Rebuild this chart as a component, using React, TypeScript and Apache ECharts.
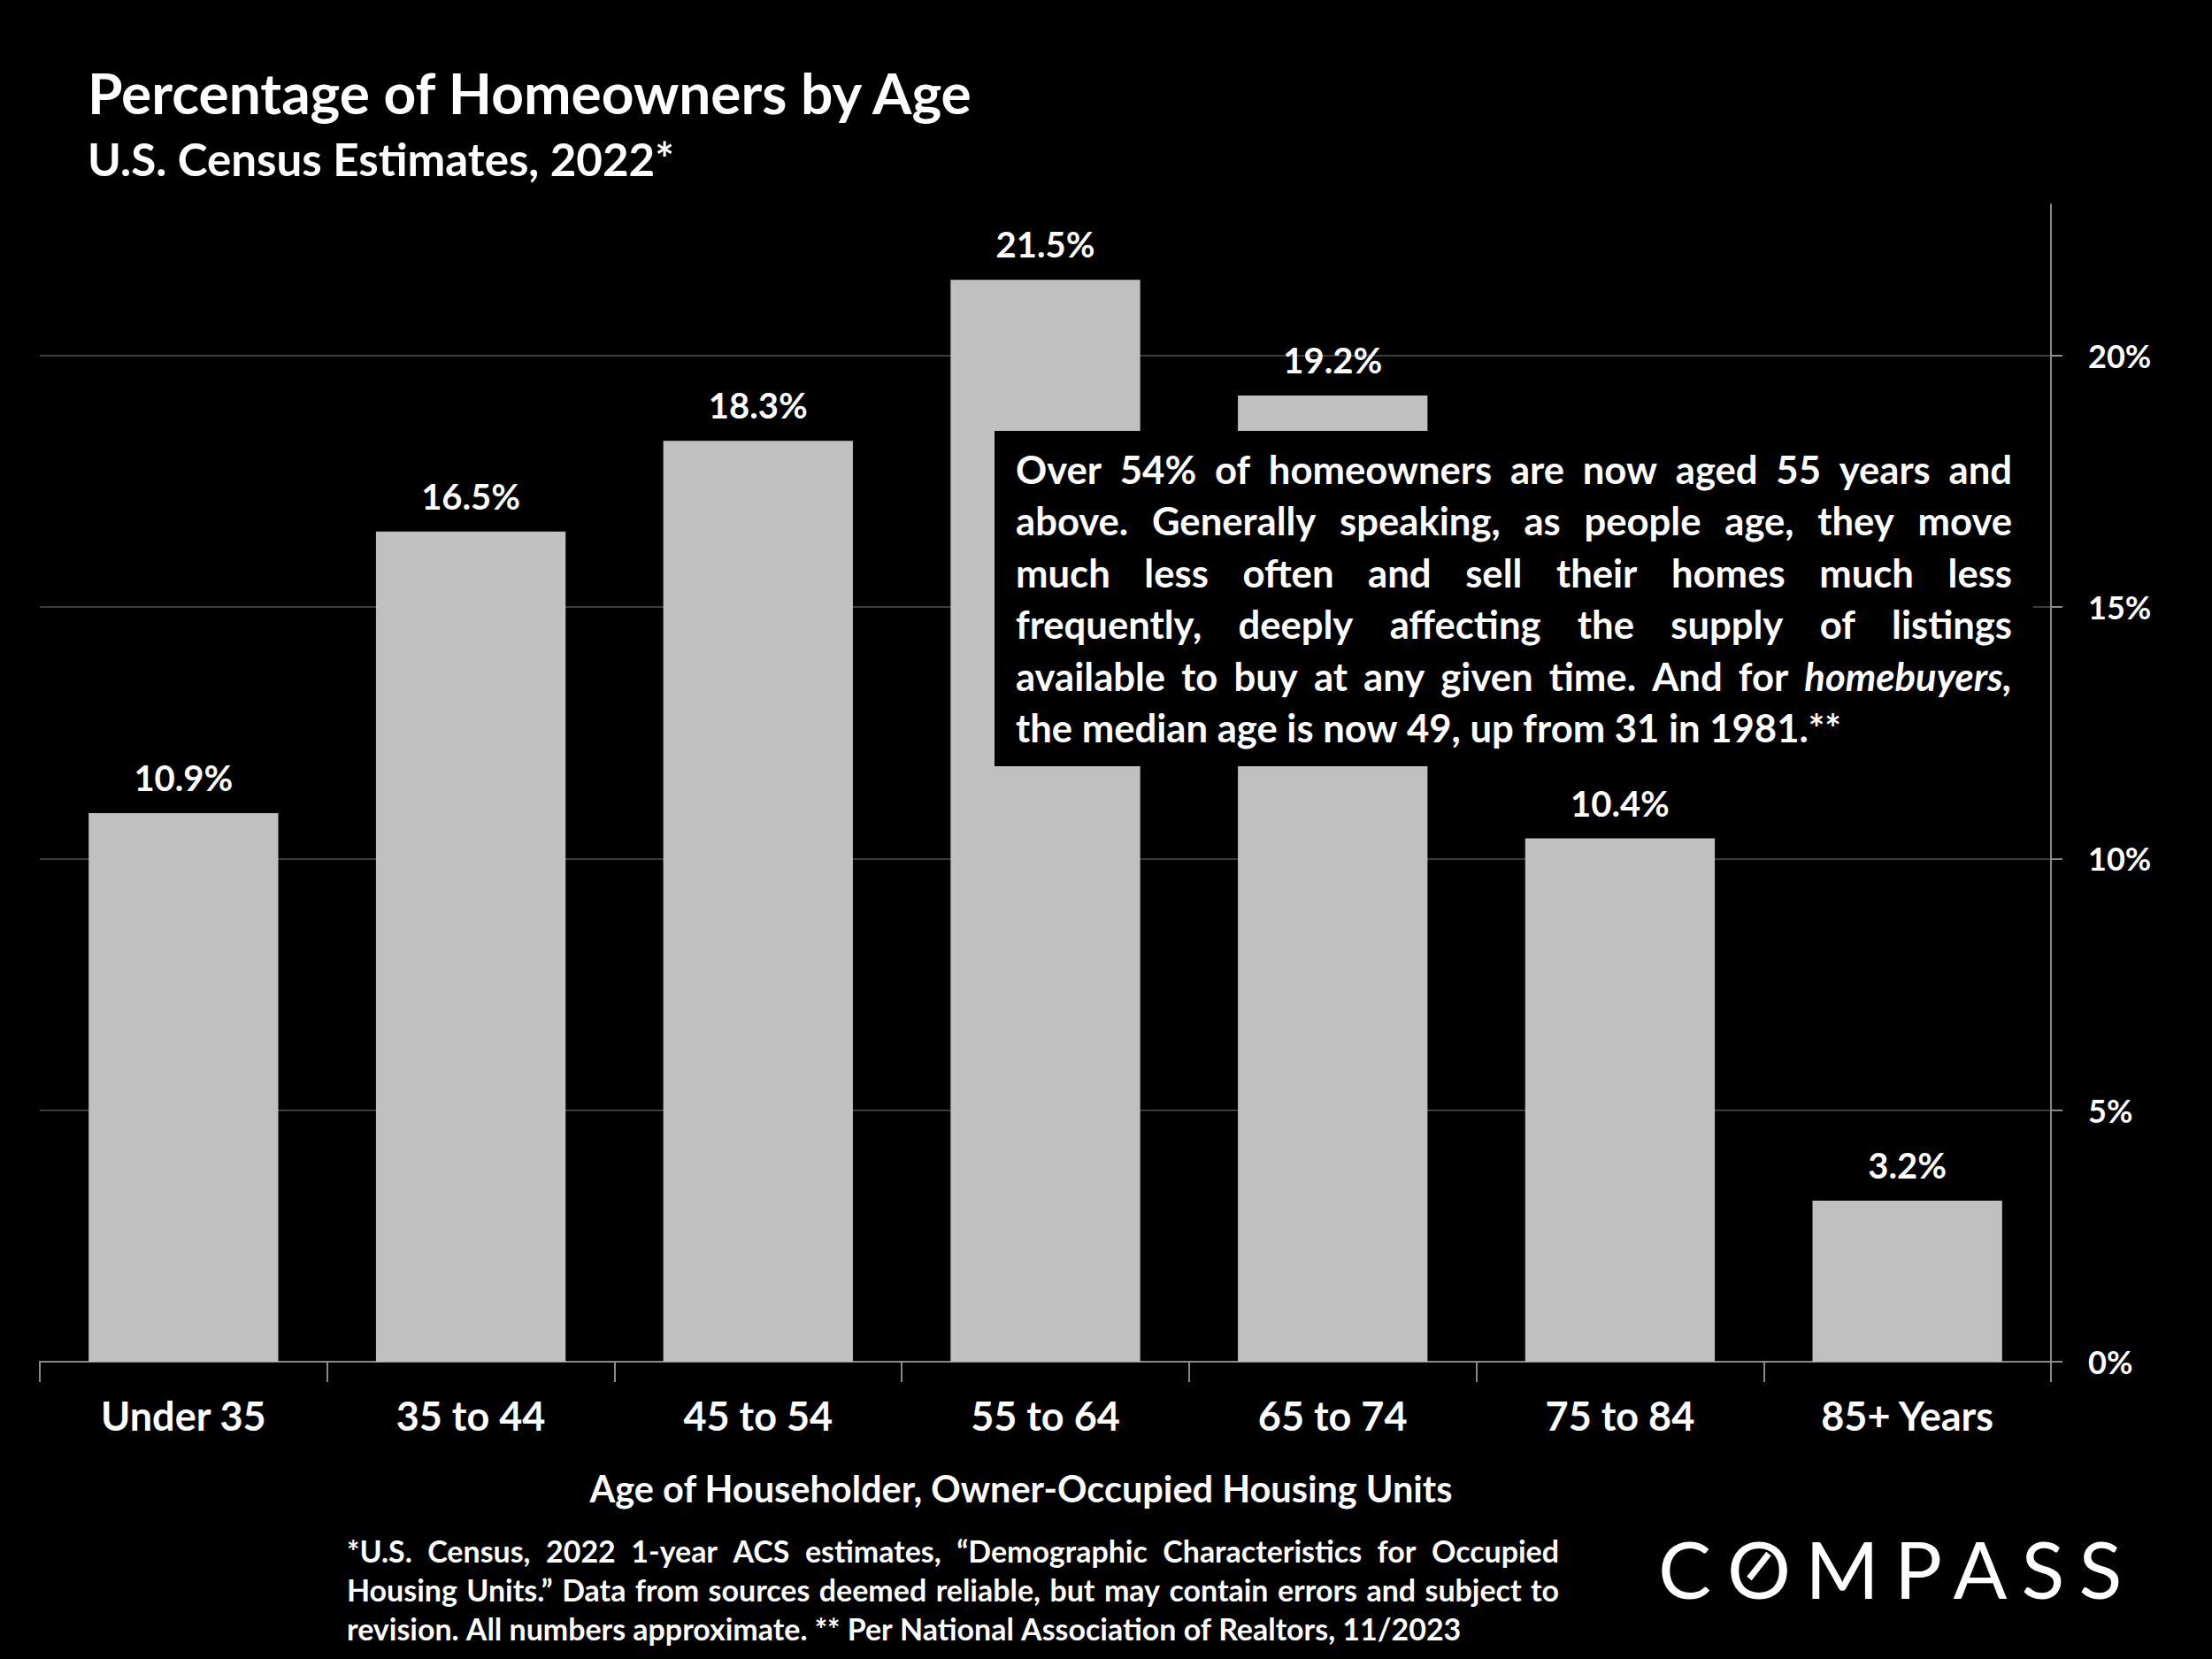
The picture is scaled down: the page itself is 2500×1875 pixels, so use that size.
import React, { useEffect, useRef } from "react";
import * as echarts from "echarts";

// ---------- data ----------
const categories = ["Under 35", "35 to 44", "45 to 54", "55 to 64", "65 to 74", "75 to 84", "85+ Years"];
const shares = [10.9, 16.5, 18.3, 21.5, 19.2, 10.4, 3.2];
const yTickValues = [0, 5, 10, 15, 20];
const titleText = "Percentage of Homeowners by Age";
const subtitleText = "U.S. Census Estimates, 2022*";
const xAxisTitle = "Age of Householder, Owner-Occupied Housing Units";
const noteLines: string[] = [
  "Over 54% of homeowners are now aged 55 years and",
  "above. Generally speaking, as people age, they move",
  "much less often and sell their homes much less",
  "frequently, deeply affecting the supply of listings",
  "available to buy at any given time. And for _homebuyers_,",
  "the median age is now 49, up from 31 in 1981.**",
];
const footLines: string[] = [
  "*U.S. Census, 2022 1-year ACS estimates, “Demographic Characteristics for Occupied",
  "Housing Units.” Data from sources deemed reliable, but may contain errors and subject to",
  "revision. All numbers approximate.  ** Per National Association of Realtors, 11/2023",
];
const logoLetters = ["C", "O", "M", "P", "A", "S", "S"];

// ---------- helpers ----------
const FAMILY = "Lato, 'Open Sans', sans-serif";
const mctx = document.createElement("canvas").getContext("2d")!;
function measure(text: string, size: number, weight = "bold", style = "normal") {
  mctx.font = `${style} ${weight} ${size}px ${FAMILY}`;
  return mctx.measureText(text).width;
}
function fitSize(text: string, target: number, weight = "bold") {
  return (100 * target) / measure(text, 100, weight);
}

function lineWords(line: string, x0: number, width: number, y: number, size: number, justify: boolean, z: number) {
  const raw = line.split(/\s+/).filter((w) => w.length);
  const words = raw.map((w) => {
    const italic = w.startsWith("_");
    const clean = w.replace(/_/g, "");
    return { t: clean, italic };
  });
  const widths = words.map((w) => measure(w.t, size, "bold", w.italic ? "italic" : "normal"));
  const total = widths.reduce((a, b) => a + b, 0);
  const space = measure(" ", size);
  const gap = justify && words.length > 1 ? (width - total) / (words.length - 1) : space;
  let x = x0;
  return words.map((w, i) => {
    const el = {
      type: "text",
      x,
      y,
      z,
      style: {
        text: w.t,
        fill: "#ffffff",
        fontSize: size,
        fontWeight: "bold",
        fontStyle: w.italic ? "italic" : "normal",
        fontFamily: FAMILY,
        align: "left",
        verticalAlign: "middle",
        textAlign: "left",
        textVerticalAlign: "middle",
      },
    };
    x += widths[i] + gap;
    return el;
  });
}

export default function App() {
  const ref = useRef<HTMLDivElement>(null);
  useEffect(() => {
    document.body.style.margin = "0";
    const chart = echarts.init(ref.current!, undefined, { renderer: "svg" });

    const noteSize = fitSize("the median age is now 49, up from 31 in 1981.**", 933);
    const footSize = fitSize("revision. All numbers approximate.  ** Per National Association of Realtors, 11/2023", 1268);
    const titleSize = fitSize(titleText, 1004);
    const subSize = fitSize(subtitleText, 663);
    const axisTitleSize = fitSize(xAxisTitle, 976);

    const noteY0 = 530;
    const noteStep = 58.4;
    const noteEls: any[] = [];
    noteLines.forEach((ln, i) => {
      noteEls.push(...lineWords(ln, 1148, 1126, noteY0 + i * noteStep, noteSize, i < noteLines.length - 1, 102));
    });
    const footY = [1752, 1796, 1840];
    const footEls: any[] = [];
    footLines.forEach((ln, i) => {
      footEls.push(...lineWords(ln, 392, 1370, footY[i], footSize, i < footLines.length - 1, 102));
    });

    const logoX = [1904, 1988, 2082, 2168, 2238, 2309, 2374];
    const logoEls: any[] = logoLetters.map((c, i) => ({
      type: "text",
      x: logoX[i],
      y: 1772,
      z: 102,
      style: {
        text: c,
        fill: "#ffffff",
        fontSize: 90,
        fontWeight: "normal",
        fontFamily: FAMILY,
        align: "center",
        verticalAlign: "middle",
        textAlign: "center",
        textVerticalAlign: "middle",
      },
    }));
    logoEls.push({
      type: "line",
      z: 103,
      shape: { x1: 1977, y1: 1784, x2: 1999, y2: 1756 },
      style: { stroke: "#ffffff", lineWidth: 7 },
    });

    const centered = (text: string, x: number, y: number, size: number) => ({
      type: "text",
      x,
      y,
      style: {
        text,
        fill: "#ffffff",
        fontSize: size,
        fontWeight: "bold",
        fontFamily: FAMILY,
        align: "center",
        verticalAlign: "middle",
        textAlign: "center",
        textVerticalAlign: "middle",
      },
    });

    chart.setOption({
      animation: false,
      backgroundColor: "#000000",
      grid: { left: 45, right: 182, top: 231, bottom: 336, containLabel: false },
      xAxis: {
        type: "category",
        data: categories,
        axisLine: { show: true, lineStyle: { color: "#8a8a8a", width: 2 } },
        axisTick: { show: true, length: 23, lineStyle: { color: "#8a8a8a", width: 2 } },
        axisLabel: { color: "#ffffff", fontSize: 45, fontWeight: "bold", fontFamily: FAMILY, margin: 38 },
      },
      yAxis: {
        type: "value",
        position: "right",
        min: 0,
        max: 23,
        interval: 5,
        axisLine: { show: true, lineStyle: { color: "#8a8a8a", width: 2 } },
        axisTick: { show: true, length: 13, customValues: yTickValues, lineStyle: { color: "#8a8a8a", width: 2 } },
        splitLine: { show: true, lineStyle: { color: "#3c3c3c", width: 2 } },
        axisLabel: {
          color: "#ffffff",
          fontSize: 36,
          fontWeight: "bold",
          fontFamily: FAMILY,
          margin: 42,
          customValues: yTickValues,
          formatter: (v: number) => (v % 5 === 0 ? `${v}%` : ""),
        },
      },
      series: [
        {
          type: "bar",
          data: shares,
          barWidth: "66%",
          itemStyle: { color: "#c0c0c0" },
          label: {
            show: true,
            position: "top",
            distance: 20,
            color: "#ffffff",
            fontSize: 40,
            fontWeight: "bold",
            fontFamily: FAMILY,
            formatter: (p: any) => `${Number(p.value).toFixed(1)}%`,
          },
        },
      ],
      graphic: [
        {
          type: "text",
          x: 99,
          y: 104,
          style: {
            text: titleText,
            fill: "#ffffff",
            fontSize: titleSize,
            fontWeight: "bold",
            fontFamily: FAMILY,
            align: "left",
            verticalAlign: "middle",
            textAlign: "left",
            textVerticalAlign: "middle",
          },
        },
        {
          type: "text",
          x: 99,
          y: 179,
          style: {
            text: subtitleText,
            fill: "#ffffff",
            fontSize: subSize,
            fontWeight: "bold",
            fontFamily: FAMILY,
            align: "left",
            verticalAlign: "middle",
            textAlign: "left",
            textVerticalAlign: "middle",
          },
        },
        centered(xAxisTitle, 1154, 1682, axisTitleSize),
        {
          type: "rect",
          z: 100,
          shape: { x: 1124, y: 487, width: 1174, height: 379 },
          style: { fill: "#000000" },
        },
        ...noteEls,
        ...footEls,
        ...logoEls,
      ],
    });
    return () => chart.dispose();
  }, []);
  return <div ref={ref} style={{ position: "fixed", left: 0, top: 0, width: 2500, height: 1875 }} />;
}
